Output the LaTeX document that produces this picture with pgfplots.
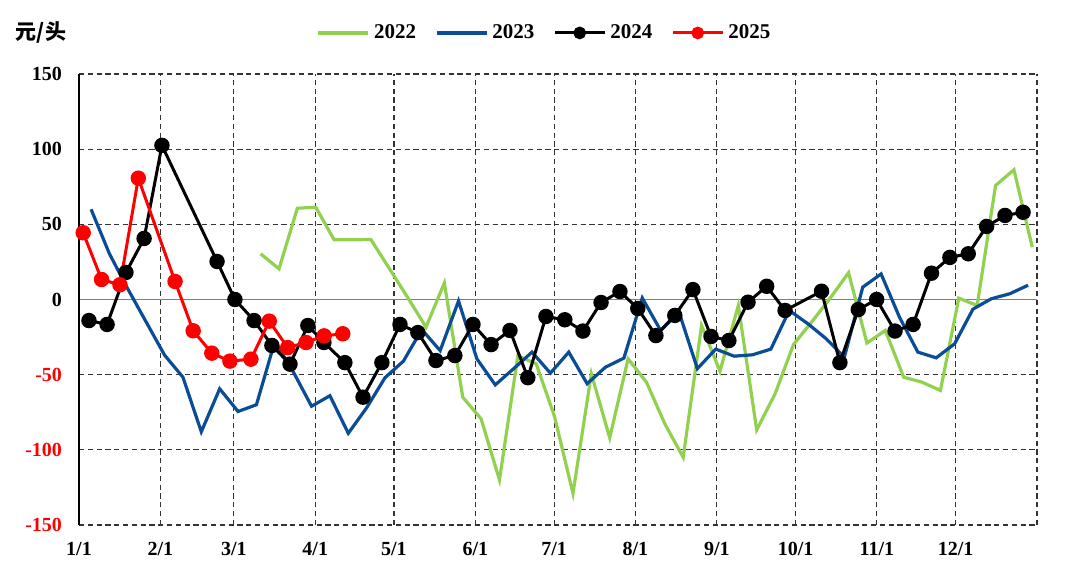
\documentclass[border=0pt]{standalone}
\usepackage{fontspec}
\setmainfont{Liberation Serif}
\newfontfamily\cjk{Noto Sans CJK SC}
\usepackage{pgfplots}
\pgfplotsset{compat=1.18}
\definecolor{g22}{HTML}{92D050}
\definecolor{b23}{HTML}{0B4C97}
\definecolor{zeroline}{HTML}{7F7F7F}

% weekly values, x = day of year
\pgfplotstableread{
x y
69.2 30.4
76.2 20.4
83.2 60.7
90.2 61.4
97.2 39.7
104.2 39.7
111.2 39.9
118.2 20.7
125.2 1.4
132.2 -18.4
139.2 11.0
146.2 -65.0
153.2 -79.4
160.2 -120.0
167.2 -37.5
174.2 -42.8
181.2 -78.0
188.2 -129.0
195.2 -49.4
202.2 -92.0
209.2 -39.5
216.2 -55.0
223.2 -82.7
230.2 -105.0
237.2 -17.3
244.2 -47.7
251.2 -4.0
258.2 -86.7
265.2 -62.8
272.2 -30.0
279.2 -14.8
286.2 0.9
293.2 17.8
300.2 -29.0
307.2 -20.6
314.2 -51.7
321.2 -55.0
328.2 -60.5
335.2 0.9
342.2 -4.0
349.2 75.8
356.2 86.3
363.2 34.8
}\yrA
\pgfplotstableread{
x y
4.6 60.0
11.6 30.4
18.6 7.0
25.6 -15.0
32.6 -37.0
39.6 -51.7
46.6 -88.0
53.6 -59.4
60.6 -74.5
67.6 -70.0
74.6 -28.0
81.6 -48.0
88.6 -71.0
95.6 -64.0
102.6 -89.0
109.6 -72.0
116.6 -52.0
123.6 -41.0
130.6 -20.0
137.6 -34.0
144.6 -1.0
151.6 -39.5
158.6 -56.8
165.6 -46.0
172.6 -35.0
179.6 -49.0
186.6 -35.0
193.6 -56.0
200.6 -45.0
207.6 -39.0
214.6 1.0
221.6 -20.6
228.6 -8.4
235.6 -46.0
242.6 -33.0
249.6 -37.7
256.6 -36.8
263.6 -33.0
270.6 -7.3
277.6 -16.0
284.6 -26.0
291.6 -38.4
298.6 8.2
305.6 17.0
312.6 -11.8
319.6 -35.0
326.6 -38.8
333.6 -29.5
340.6 -6.4
347.6 0.5
354.6 3.8
361.6 9.5
}\yrB
\pgfplotstableread{
x y
3.8 -14.0
10.7 -16.6
17.9 18.0
24.8 40.6
31.6 102.5
52.6 25.3
59.4 0.0
66.7 -14.0
73.5 -30.6
80.4 -43.0
87.2 -17.3
93.3 -28.6
101.3 -42.0
108.2 -65.0
115.4 -42.0
122.3 -16.6
129.1 -22.0
136.0 -40.6
143.2 -37.3
150.1 -16.6
157.0 -30.0
164.2 -20.6
171.0 -52.0
177.9 -11.3
185.1 -13.5
192.0 -21.0
198.9 -2.0
206.1 5.3
212.9 -6.0
219.8 -24.0
227.0 -10.6
233.9 6.6
240.8 -24.6
247.6 -27.3
254.9 -1.8
262.0 8.8
269.0 -7.3
282.9 5.5
289.9 -42.0
296.9 -6.7
303.9 0.0
310.9 -21.0
317.8 -16.6
324.8 17.5
331.8 28.0
338.8 30.4
345.8 48.6
352.8 55.9
359.7 58.0
}\yrC
\pgfplotstableread{
x y
1.6 44.4
8.6 13.3
15.6 9.8
22.6 80.7
36.6 12.0
43.5 -20.8
50.6 -35.7
57.5 -41.0
65.5 -39.7
72.5 -14.4
79.5 -32.0
86.5 -28.6
93.4 -24.2
100.5 -22.8
}\yrD

\begin{document}
\begin{tikzpicture}
\begin{axis}[
 scale only axis, width=479pt, height=225.5pt,
 xmin=0, xmax=365, ymin=-150, ymax=150,
 xtick={0,31,59,90,120,151,181,212,243,273,304,334,365},
 xticklabels={1/1,2/1,3/1,4/1,5/1,6/1,7/1,8/1,9/1,10/1,11/1,12/1,{}},
 ytick={-150,-100,-50,0,50,100,150},
 yticklabels={\textcolor{red}{-150},\textcolor{red}{-100},\textcolor{red}{-50},0,50,100,150},
 major tick length=0pt,
 axis line style={draw=none},
 grid=major,
 grid style={black!80, line width=0.55pt, dash pattern=on 2.6pt off 1.8pt},
 tick label style={font=\fontsize{10}{12}\selectfont\bfseries},
 yticklabel style={xshift=-5pt},
 xticklabel style={yshift=-5pt},
 legend columns=4,
 legend style={draw=none, fill=none, at={(0.487,1.091)}, anchor=center,
   font=\fontsize{10.5}{12}\selectfont\bfseries,
   /tikz/every even column/.append style={column sep=7.5pt}},
 legend image code/.code={\draw[mark repeat=2,mark phase=2,#1] plot coordinates {(0pt,0pt) (12.5pt,0pt) (25pt,0pt)};},
 legend image post style={mark size=2.4pt},
 clip=false,
]
\draw[zeroline, line width=0.7pt] (axis cs:0,0) -- (axis cs:365,0);
\draw[black, line width=0.8pt] (rel axis cs:0,0) -- (rel axis cs:0,1);
\addplot[g22, line width=1.6pt, no markers] table {\yrA};
\addlegendentry{2022}
\addplot[b23, line width=1.6pt, no markers] table {\yrB};
\addlegendentry{2023}
\addplot[black, line width=1.5pt, mark=*, mark size=3.1pt, mark options={solid, fill=black}] table {\yrC};
\addlegendentry{2024}
\addplot[red, line width=1.5pt, mark=*, mark size=3.1pt, mark options={solid, fill=red}] table {\yrD};
\addlegendentry{2025}
\node[font=\cjk\fontsize{10.5}{12}\selectfont\bfseries] at (rel axis cs:-0.0397,1.093) {元/头};
\end{axis}
\pgfresetboundingbox
\path (current axis.south west) ++(-39.5pt,-25.5pt) rectangle ++(540pt,288pt);
\end{tikzpicture}
\end{document}
